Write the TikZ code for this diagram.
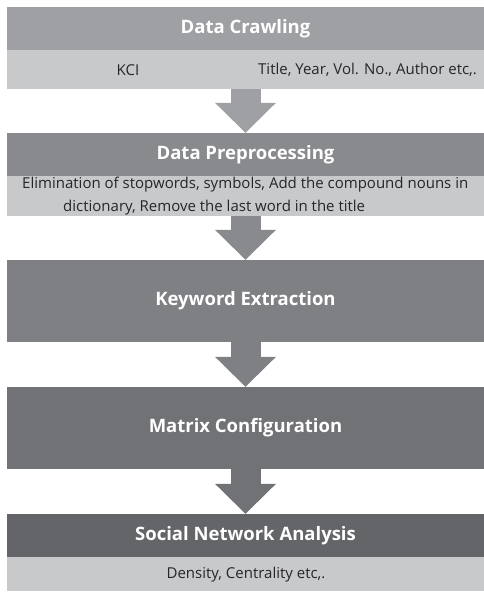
\documentclass[tikz,border=0pt]{standalone}
\usepackage{fontspec}
\setmainfont{Open Sans}
\usepackage{tikz}
\usetikzlibrary{positioning}
\usetikzlibrary{calc}
\usetikzlibrary{arrows.meta}
\pgfdeclarelayer{nodelayer}
\pgfdeclarelayer{edgelayer}
\pgfsetlayers{edgelayer,nodelayer,main}
\definecolor{crawl}{HTML}{9FA0A4}
\definecolor{prep}{HTML}{898A8E}
\definecolor{keyw}{HTML}{7F8084}
\definecolor{matr}{HTML}{717276}
\definecolor{sna}{HTML}{646569}
\definecolor{pale}{HTML}{C8C9CB}
\definecolor{ink}{HTML}{262628}
\tikzstyle{none}=[inner sep=0pt]
\tikzset{band/.style={rectangle, inner sep=0pt, minimum width=477pt, text=white,
font=\bfseries\fontsize{18.5}{21}\selectfont, fill=#1}}
\tikzset{info/.style={rectangle, inner sep=0pt, minimum width=477pt, fill=pale}}
\tikzset{txt/.style={inner sep=0pt, text=ink, font=\fontsize{15}{18}\selectfont}}
\tikzset{flow/.style={draw=#1, line width=30pt,
-{Triangle[length=30pt, width=61pt, line width=0pt]}}}

\begin{document}
\begin{tikzpicture}[x=1pt, y=-1pt]
    \useasboundingbox (0,0) rectangle (484,595);
    \begin{pgfonlayer}{nodelayer}
        \node [band=crawl, minimum height=43pt] (1) at (245.5, 28.5) {Data Crawling};
        \node [info, minimum height=39pt] (2) at (245.5, 69.5) {};
        \node [style=txt] (3) at (128, 70) {KCI};
        \node [style=txt, anchor=west] (4) at (258, 70) {Title, Year, Vol. No., Author etc,.};
        \node [band=prep, minimum height=43pt] (5) at (245.5, 154.5) {Data Preprocessing};
        \node [info, minimum height=40pt] (6) at (245.5, 196) {};
        \node [style=txt, anchor=west] (7) at (22, 185) {Elimination of stopwords, symbols, Add the compound nouns in};
        \node [style=txt, anchor=west] (8) at (63, 208) {dictionary, Remove the last word in the title};
        \node [band=keyw, minimum height=82pt] (9) at (245.5, 301) {Keyword Extraction};
        \node [band=matr, minimum height=82pt] (10) at (245.5, 428) {Matrix Configuration};
        \node [band=sna, minimum height=43pt] (11) at (245.5, 535.5) {Social Network Analysis};
        \node [info, minimum height=34pt] (12) at (245.5, 574) {};
        \node [style=txt] (13) at (246, 575) {Density, Centrality etc,.};
    \end{pgfonlayer}
    \begin{pgfonlayer}{edgelayer}
        \draw [flow=crawl] (2.south) to (5.north);
        \draw [flow=prep] (6.south) to (9.north);
        \draw [flow=keyw] (9.south) to (10.north);
        \draw [flow=matr] (10.south) to (11.north);
    \end{pgfonlayer}
\end{tikzpicture}
\end{document}
